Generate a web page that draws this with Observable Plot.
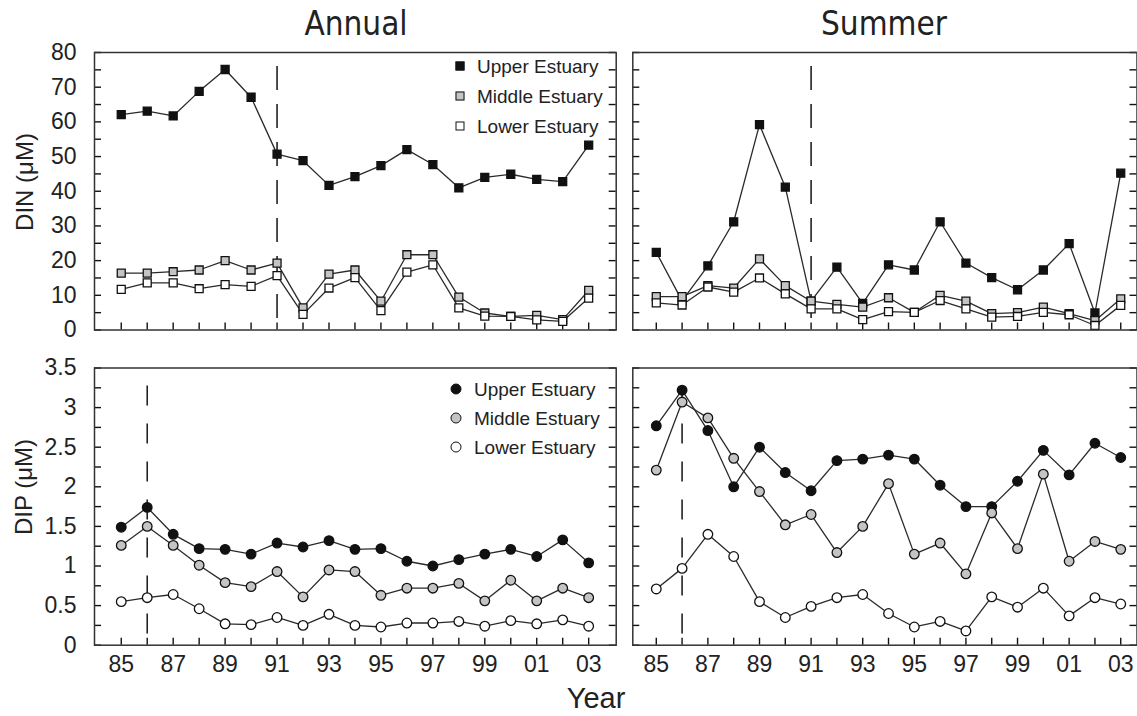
<!DOCTYPE html>
<html>
<head>
<meta charset="utf-8">
<script src="https://cdn.jsdelivr.net/npm/d3@7"></script>
<script src="https://cdn.jsdelivr.net/npm/@observablehq/plot@0.6"></script>
<style>
  html, body { margin: 0; padding: 0; background: #fff; }
  #wrap { position: relative; width: 1137px; height: 716px; overflow: hidden; background: #fff;
          font-family: "Liberation Sans", Arial, sans-serif; color: #222; }
  .lbl { position: absolute; white-space: nowrap; line-height: 1; transform: translate(-50%, -50%); }
  .title { font-family: "Liberation Sans Narrow", "DejaVu Sans Condensed", "Liberation Sans", sans-serif; font-size: 33px; }
  .ylab { font-size: 24px; transform: translate(-50%, -50%) rotate(-90deg); }
  .xlab { font-size: 29px; }
  .leg { position: absolute; font-size: 19px; line-height: 1; white-space: nowrap; transform: translateY(-50%); }
  .sym { position: absolute; box-sizing: border-box; border: 1.4px solid #111; transform: translate(-50%, -50%); }
</style>
</head>
<body>
<div id="wrap"></div>
<script>
// ---------- data ----------
const years = [1985,1986,1987,1988,1989,1990,1991,1992,1993,1994,1995,1996,1997,1998,1999,2000,2001,2002,2003];
const yearLabelTicks = [1985,1987,1989,1991,1993,1995,1997,1999,2001,2003];
const dinTicks = [0,10,20,30,40,50,60,70,80];
const dinMinorTicks = [0,5,10,15,20,25,30,35,40,45,50,55,60,65,70,75,80];
const dipTicks = [0,0.5,1,1.5,2,2.5,3,3.5];
const dipMinorTicks = [0,0.25,0.5,0.75,1,1.25,1.5,1.75,2,2.25,2.5,2.75,3,3.25,3.5];
const seriesNames = ["Upper Estuary","Middle Estuary","Lower Estuary"];
const seriesFills = ["#111111","#c4c4c4","#ffffff"];
const panelTitles = ["Annual","Summer"];

const dinAnnualUpper  = [62.1,63.1,61.7,68.8,75.1,67.1,50.7,48.8,41.7,44.2,47.4,52.0,47.7,41.0,44.0,44.9,43.4,42.8,53.3];
const dinAnnualMiddle = [16.4,16.4,16.8,17.3,20.0,17.3,19.3,6.4,16.1,17.3,8.3,21.7,21.7,9.5,4.9,3.9,4.2,3.0,11.4];
const dinAnnualLower  = [11.7,13.6,13.6,11.9,13.1,12.6,15.7,4.5,12.1,15.1,5.6,16.7,18.8,6.4,4.0,3.9,2.9,2.5,9.2];

const dinSummerUpper  = [22.4,8.4,18.5,31.2,59.2,41.2,8.3,18.1,7.7,18.8,17.3,31.2,19.3,15.1,11.6,17.3,24.9,4.9,45.2];
const dinSummerMiddle = [9.6,9.6,12.8,12.1,20.5,12.8,8.3,7.4,6.6,9.3,5.1,10.0,8.3,4.7,5.0,6.6,4.7,2.7,9.0];
const dinSummerLower  = [7.8,7.2,12.4,10.9,15.0,10.4,6.1,6.1,3.0,5.3,5.1,8.5,6.1,3.7,3.9,5.1,4.4,1.3,7.1];

const dipAnnualUpper  = [1.49,1.74,1.40,1.22,1.21,1.15,1.29,1.24,1.32,1.21,1.22,1.06,1.00,1.08,1.15,1.21,1.12,1.33,1.04];
const dipAnnualMiddle = [1.26,1.50,1.26,1.01,0.79,0.74,0.93,0.61,0.95,0.93,0.63,0.72,0.72,0.78,0.56,0.82,0.56,0.72,0.60];
const dipAnnualLower  = [0.55,0.60,0.64,0.46,0.27,0.26,0.35,0.25,0.39,0.25,0.23,0.28,0.28,0.30,0.24,0.31,0.27,0.32,0.24];

const dipSummerUpper  = [2.77,3.22,2.71,2.00,2.50,2.18,1.95,2.33,2.35,2.40,2.35,2.02,1.75,1.75,2.07,2.46,2.15,2.55,2.37];
const dipSummerMiddle = [2.21,3.07,2.87,2.36,1.94,1.52,1.65,1.17,1.50,2.04,1.15,1.29,0.90,1.67,1.22,2.16,1.06,1.31,1.21];
const dipSummerLower  = [0.71,0.97,1.40,1.12,0.55,0.35,0.49,0.60,0.64,0.40,0.23,0.30,0.18,0.61,0.48,0.72,0.37,0.60,0.52];

const dinBreakYear = 1991;
const dipBreakYear = 1986;

// ---------- helpers ----------
function tidy(u, m, l) {
  const rows = [];
  [u, m, l].forEach((arr, si) => arr.forEach((v, i) => rows.push({year: years[i], value: v, series: seriesNames[si]})));
  return rows;
}

const wrap = document.getElementById("wrap");
const TICK = 7; // inward tick length (px)

function place(svg, left, top) {
  svg.style.position = "absolute";
  svg.style.left = left + "px";
  svg.style.top = top + "px";
  wrap.appendChild(svg);
}

function panel({rows, left, top, width, height, margin, xDomain, yDomain, yMajor, yMinor, yLabels, xLabels, breakYear, dash, symbol, r}) {
  const common = {
    width, height,
    marginLeft: margin[0], marginTop: margin[1], marginRight: margin[2], marginBottom: margin[3],
    x: {domain: xDomain},
    y: {domain: yDomain},
    style: {fontSize: "23px", fontFamily: "'Liberation Sans', Arial, sans-serif", color: "#222", background: "transparent", overflow: "visible"}
  };
  const fw = width - margin[0] - margin[2];
  const fh = height - margin[1] - margin[3];
  // tick length converted to data units of each scale
  const tx = TICK * (xDomain[1] - xDomain[0]) / fw;
  const ty = TICK * (yDomain[1] - yDomain[0]) / fh;
  const tickStyle = {stroke: "#111", strokeWidth: 1.4};

  const svg = Plot.plot({
    ...common,
    color: {domain: seriesNames, range: seriesFills},
    marks: [
      Plot.ruleY(yMinor, {y: d => d, x1: xDomain[0], x2: xDomain[0] + tx, ...tickStyle}),
      Plot.ruleY(yMinor, {y: d => d, x1: xDomain[1] - tx, x2: xDomain[1], ...tickStyle}),
      Plot.ruleX(years, {x: d => d, y1: yDomain[0], y2: yDomain[0] + ty, ...tickStyle}),
      Plot.ruleX([breakYear], {stroke: "#222", strokeWidth: 1.6, strokeDasharray: dash, strokeDashoffset: dash.split(",")[0]}),
      Plot.line(rows, {x: "year", y: "value", z: "series", stroke: "#2a2a2a", strokeWidth: 1.3}),
      Plot.dot(rows, {x: "year", y: "value", fill: "series", symbol, r, stroke: "#111", strokeWidth: 1.3}),
      Plot.frame({stroke: "#333", strokeWidth: 1.5}),
      yLabels
        ? Plot.axisY(yMajor, {anchor: "left", tickSize: 0, tickPadding: 18, label: null, tickFormat: d => String(d)})
        : Plot.axisY([], {anchor: "left", tickSize: 0, label: null}),
      xLabels
        ? Plot.axisX(yearLabelTicks, {anchor: "bottom", tickSize: 0, tickPadding: 10, label: null, tickFormat: d => String(d).slice(2)})
        : Plot.axisX([], {anchor: "bottom", tickSize: 0, label: null})
    ]
  });
  place(svg, left, top);
}

const xLeft = [1983.97, 2004.06];
const xRight = [1984.09, 2003.63];

panel({rows: tidy(dinAnnualUpper, dinAnnualMiddle, dinAnnualLower), left: 0, top: 0, width: 620, height: 345,
  margin: [94, 52, 4.3, 15.5], xDomain: xLeft, yDomain: [0, 80], yMajor: dinTicks, yMinor: dinMinorTicks,
  yLabels: true, xLabels: false, breakYear: dinBreakYear, dash: "24,14", symbol: "square", r: 4.5});
panel({rows: tidy(dinSummerUpper, dinSummerMiddle, dinSummerLower), left: 620, top: 0, width: 517, height: 345,
  margin: [12.3, 52, 0.5, 15.5], xDomain: xRight, yDomain: [0, 80], yMajor: dinTicks, yMinor: dinMinorTicks,
  yLabels: false, xLabels: false, breakYear: dinBreakYear, dash: "24,14", symbol: "square", r: 4.5});
panel({rows: tidy(dipAnnualUpper, dipAnnualMiddle, dipAnnualLower), left: 0, top: 345, width: 620, height: 371,
  margin: [94, 22.5, 4.3, 71.3], xDomain: xLeft, yDomain: [0, 3.5], yMajor: dipTicks, yMinor: dipMinorTicks,
  yLabels: true, xLabels: true, breakYear: dipBreakYear, dash: "20,18", symbol: "circle", r: 4.8});
panel({rows: tidy(dipSummerUpper, dipSummerMiddle, dipSummerLower), left: 620, top: 345, width: 517, height: 371,
  margin: [12.3, 22.5, 0.5, 71.3], xDomain: xRight, yDomain: [0, 3.5], yMajor: dipTicks, yMinor: dipMinorTicks,
  yLabels: false, xLabels: true, breakYear: dipBreakYear, dash: "20,18", symbol: "circle", r: 4.8});

// ---------- titles & axis labels ----------
function label(text, cls, x, y) {
  const d = document.createElement("div");
  d.className = "lbl " + cls;
  d.textContent = text;
  d.style.left = x + "px";
  d.style.top = y + "px";
  wrap.appendChild(d);
}
label(panelTitles[0], "title", 356, 23);
label(panelTitles[1], "title", 884, 23);
label("DIN (\u03BCM)", "ylab", 25, 182);
label("DIP (\u03BCM)", "ylab", 24, 487);
label("Year", "xlab", 596, 698);

// ---------- legends ----------
function legend(x, ys, textX, shape) {
  seriesNames.forEach((name, i) => {
    const s = document.createElement("div");
    s.className = "sym";
    const size = shape === "circle" ? 11 : 9;
    s.style.width = size + "px";
    s.style.height = size + "px";
    if (shape === "circle") s.style.borderRadius = "50%";
    s.style.background = seriesFills[i];
    s.style.left = x + "px";
    s.style.top = ys[i] + "px";
    wrap.appendChild(s);
    const t = document.createElement("div");
    t.className = "leg";
    t.textContent = name;
    t.style.left = textX + "px";
    t.style.top = ys[i] + "px";
    wrap.appendChild(t);
  });
}
legend(460, [66, 96, 125.7], 477, "square");
legend(456, [389, 418.3, 447.3], 474, "circle");
</script>
</body>
</html>
